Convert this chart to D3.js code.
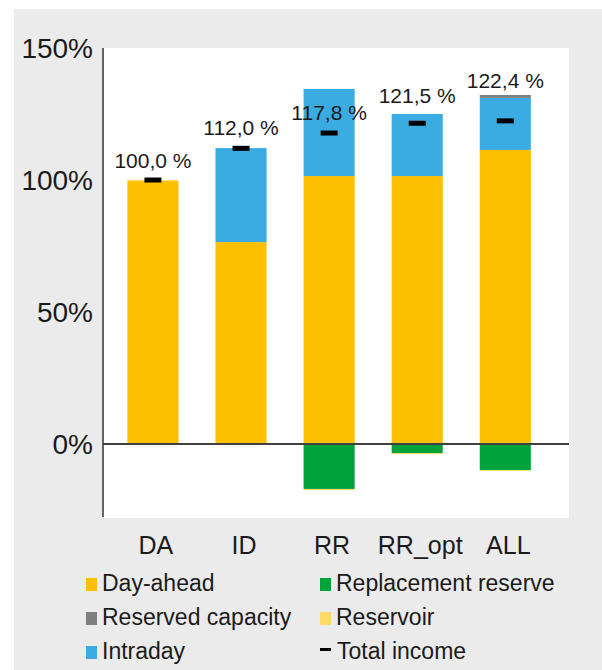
<!DOCTYPE html>
<html>
<head>
<meta charset="utf-8">
<script src="https://cdn.jsdelivr.net/npm/d3@7"></script>
<style>
  body { margin: 0; background: #fff; }
  text { font-family: "Liberation Sans", Arial, sans-serif; fill: #1a1a1a; }
</style>
</head>
<body>
<div class="chart"></div>
<script>
// data (percent of DA income)
var categories = ["DA", "ID", "RR", "RR_opt", "ALL"];
var dayAhead = [99.6, 76.5, 101.5, 101.5, 111.4];
var intraday = [0, 35.6, 33.0, 23.5, 19.7];
var reservedCapacity = [0, 0, 0, 0, 1.1];
var replacementReserve = [0, 0, -17.0, -3.4, -9.9];
var reservoir = [0.4, 0, -0.4, -0.4, -0.3];
var totalIncome = [100.0, 112.0, 117.8, 121.5, 122.4];
var labelAt = [104.5, 117.0, 122.7, 129.2, 134.8];
var yTicks = [0, 50, 100, 150];

var keys = ["dayAhead", "intraday", "reservedCapacity", "replacementReserve", "reservoir"];
var colors = {
    dayAhead: "#fcc000",
    intraday: "#3aace1",
    reservedCapacity: "#807f7f",
    replacementReserve: "#00a33b",
    reservoir: "#ffd966"
};

var rows = categories.map(function (c, i) {
    return {
        cat: c,
        dayAhead: dayAhead[i],
        intraday: intraday[i],
        reservedCapacity: reservedCapacity[i],
        replacementReserve: replacementReserve[i],
        reservoir: reservoir[i],
        total: totalIncome[i],
        labelAt: labelAt[i]
    };
});

var width = 602, height = 670;

var svg = d3.select(".chart")
    .append("svg")
    .attr("width", width)
    .attr("height", height);

// grey panel + white plot area
svg.append("rect")
    .attr("x", 14).attr("y", 9)
    .attr("width", width - 14).attr("height", height - 9)
    .attr("fill", "#ebebeb");

var plot = { left: 103, right: 569, top: 48, bottom: 518 };

svg.append("rect")
    .attr("x", plot.left).attr("y", plot.top)
    .attr("width", plot.right - plot.left).attr("height", plot.bottom - plot.top)
    .attr("fill", "#fff");

var x = d3.scaleBand()
    .domain(categories)
    .range([plot.left, plot.right])
    .paddingInner(0.42)
    .paddingOuter(0.355)
    .align(0.39);

var y = d3.scaleLinear()
    .domain([-28, 150])
    .range([plot.bottom, plot.top]);

// stacked bars
var stack = d3.stack()
    .keys(keys)
    .offset(d3.stackOffsetDiverging);

var series = stack(rows);

svg.selectAll(".serie")
    .data(series)
    .enter().append("g")
    .attr("class", "serie")
    .attr("fill", function (d) { return colors[d.key]; })
    .selectAll("rect")
    .data(function (d) { return d; })
    .enter().append("rect")
    .attr("x", function (d) { return x(d.data.cat); })
    .attr("y", function (d) { return y(Math.max(d[0], d[1])); })
    .attr("width", x.bandwidth())
    .attr("height", function (d) { return Math.abs(y(d[0]) - y(d[1])); });

// y axis line + zero line
svg.append("line")
    .attr("x1", plot.left).attr("x2", plot.left)
    .attr("y1", plot.top).attr("y2", plot.bottom - 1)
    .attr("stroke", "#333").attr("stroke-width", 1.5);

svg.append("line")
    .attr("x1", plot.left).attr("x2", plot.right)
    .attr("y1", y(0)).attr("y2", y(0))
    .attr("stroke", "#404040").attr("stroke-width", 2);

// tick labels
svg.selectAll(".ytick")
    .data(yTicks)
    .enter().append("text")
    .attr("class", "ytick")
    .attr("x", plot.left - 10)
    .attr("y", function (d) { return y(d); })
    .attr("dy", "0.35em")
    .attr("text-anchor", "end")
    .style("font-size", "28px")
    .text(function (d) { return d + "%"; });

svg.selectAll(".xtick")
    .data(categories)
    .enter().append("text")
    .attr("class", "xtick")
    .attr("x", function (d) { return x(d) + x.bandwidth() / 2 + 3; })
    .attr("y", 554)
    .attr("text-anchor", "middle")
    .style("font-size", "25px")
    .text(function (d) { return d; });

// total income markers
svg.selectAll(".total")
    .data(rows)
    .enter().append("rect")
    .attr("class", "total")
    .attr("x", function (d) { return x(d.cat) + x.bandwidth() / 2 - 8.5; })
    .attr("y", function (d) { return y(d.total) - 2.5; })
    .attr("width", 17)
    .attr("height", 5)
    .attr("fill", "#000");

var fmt = d3.format(".1f");
svg.selectAll(".vlabel")
    .data(rows)
    .enter().append("text")
    .attr("class", "vlabel")
    .attr("x", function (d) { return x(d.cat) + x.bandwidth() / 2; })
    .attr("y", function (d) { return y(d.labelAt); })
    .attr("text-anchor", "middle")
    .style("font-size", "21px")
    .text(function (d) { return fmt(d.total).replace(".", ",") + " %"; });

// legend
var legend = [
    { name: "Day-ahead", key: "dayAhead", col: 0, row: 0 },
    { name: "Reserved capacity", key: "reservedCapacity", col: 0, row: 1 },
    { name: "Intraday", key: "intraday", col: 0, row: 2 },
    { name: "Replacement reserve", key: "replacementReserve", col: 1, row: 0 },
    { name: "Reservoir", key: "reservoir", col: 1, row: 1 },
    { name: "Total income", key: "total", col: 1, row: 2 }
];
var colX = [86, 320];

var lg = svg.selectAll(".legend")
    .data(legend)
    .enter().append("g")
    .attr("class", "legend")
    .attr("transform", function (d) {
        return "translate(" + colX[d.col] + "," + (591 + d.row * 34) + ")";
    });

lg.append("rect")
    .attr("x", 0)
    .attr("y", function (d) { return d.key === "total" ? -11 : -13; })
    .attr("width", 11)
    .attr("height", function (d) { return d.key === "total" ? 3 : 13; })
    .attr("fill", function (d) { return d.key === "total" ? "#000" : colors[d.key]; });

lg.append("text")
    .attr("x", function (d) { return d.key === "total" ? 17 : 16; })
    .attr("y", 0)
    .style("font-size", "23px")
    .text(function (d) { return d.name; });
</script>
</body>
</html>
